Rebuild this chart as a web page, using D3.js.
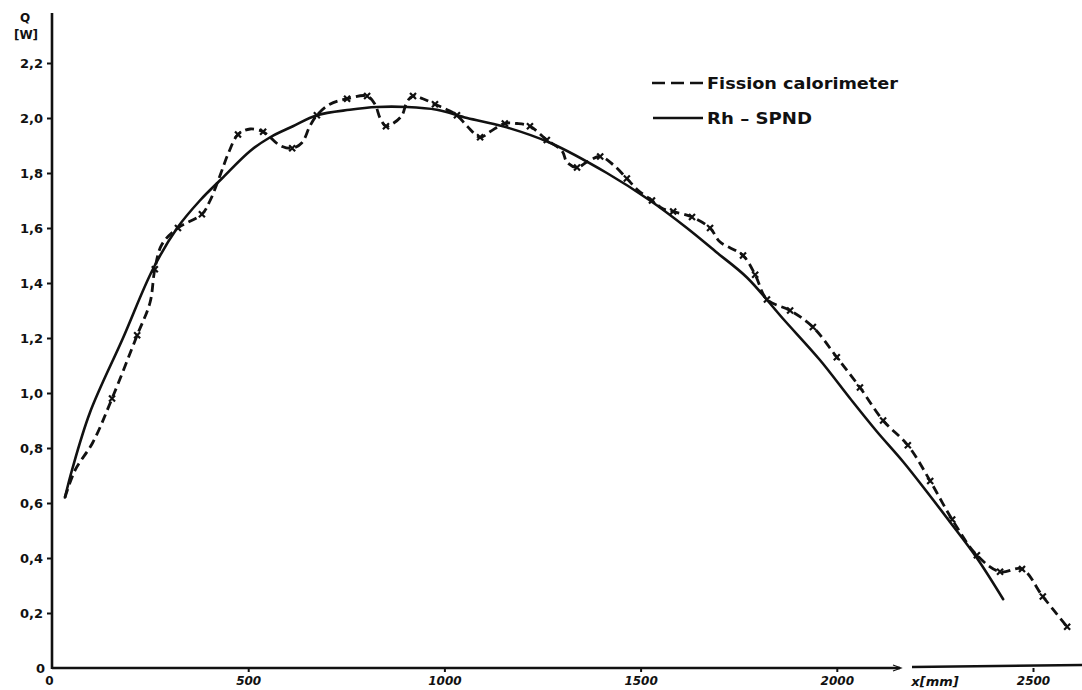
<!DOCTYPE html>
<html>
<head>
<meta charset="utf-8">
<script src="https://cdn.jsdelivr.net/npm/d3@7"></script>
<style>
  html, body { margin: 0; background: #fff; }
  svg { display: block; }
  text { font-family: "DejaVu Sans", sans-serif; fill: #111; }
</style>
</head>
<body>
<svg id="chart" width="1082" height="690"></svg>
<script>
// Axial position along the channel, mm, and power Q, W
const fissionMm = [33, 59, 104, 153, 217, 250, 262, 280, 321, 382, 403, 428, 449, 474, 505, 538, 556, 581, 612, 637,
  657, 675, 708, 752, 803, 823, 836, 851, 869, 892, 905, 920, 945, 976, 1007, 1032, 1058, 1091, 1116, 1154,
  1185, 1218, 1261, 1300, 1312, 1338, 1363, 1397, 1430, 1465, 1491, 1529, 1557, 1583, 1631, 1677, 1702, 1761, 1792, 1822,
  1881, 1939, 2000, 2059, 2118, 2181, 2238, 2294, 2357, 2416, 2472, 2525, 2587];
const fissionQ = [0.62, 0.72, 0.82, 0.98, 1.21, 1.33, 1.45, 1.54, 1.60, 1.65, 1.70, 1.79, 1.87, 1.94, 1.96, 1.95, 1.93, 1.90, 1.89, 1.91,
  1.97, 2.01, 2.05, 2.07, 2.08, 2.05, 2.00, 1.97, 1.98, 2.01, 2.06, 2.08, 2.07, 2.05, 2.03, 2.01, 1.97, 1.93, 1.95, 1.98,
  1.98, 1.97, 1.92, 1.88, 1.84, 1.82, 1.84, 1.86, 1.83, 1.78, 1.74, 1.70, 1.67, 1.66, 1.64, 1.60, 1.55, 1.50, 1.43, 1.34,
  1.30, 1.24, 1.13, 1.02, 0.90, 0.81, 0.68, 0.54, 0.41, 0.35, 0.36, 0.26, 0.15];
// 1-based indices of the fission points carrying a measurement mark
const fissionMarked = [4, 5, 7, 9, 10, 14, 16, 19, 22, 24, 25, 28, 32, 34, 36, 38, 40, 42, 43, 46, 48, 50, 52, 54, 55, 56,
  58, 59, 60, 61, 62, 63, 64, 65, 66, 67, 68, 69, 70, 71, 72, 73];

const spndMm = [33, 51, 97, 181, 257, 319, 377, 433, 505, 556, 614, 675, 759, 828, 905, 981, 1058, 1149, 1269, 1414,
  1524, 1618, 1695, 1771, 1863, 1957, 2034, 2102, 2169, 2230, 2289, 2357, 2424];
const spndQ = [0.62, 0.72, 0.93, 1.20, 1.45, 1.60, 1.70, 1.78, 1.88, 1.93, 1.97, 2.01, 2.03, 2.04, 2.04, 2.03, 2.00, 1.97, 1.91, 1.80,
  1.70, 1.60, 1.51, 1.42, 1.27, 1.12, 0.98, 0.86, 0.75, 0.64, 0.53, 0.40, 0.25];

const qTicks = [0, 0.2, 0.4, 0.6, 0.8, 1.0, 1.2, 1.4, 1.6, 1.8, 2.0, 2.2];
const qTickLabels = ["0", "0,2", "0,4", "0,6", "0,8", "1,0", "1,2", "1,4", "1,6", "1,8", "2,0", "2,2"];
const xTicks = [0, 500, 1000, 1500, 2000, 2500];
const xTickLabels = ["0", "500", "1000", "1500", "2000", "2500"];
const seriesNames = ["Fission calorimeter", "Rh \u2013 SPND"];

const svg = d3.select("#chart");
const ink = "#111";

const x = d3.scaleLinear().domain([0, 2500]).range([52, 1033]);
const y = d3.scaleLinear().domain([0, 2.2]).range([668, 63]);

// Y axis
const yAxis = d3.axisLeft(y)
  .tickValues(qTicks)
  .tickSize(5)
  .tickSizeOuter(0)
  .tickPadding(4)
  .tickFormat((d, i) => qTickLabels[i]);
const gy = svg.append("g").attr("transform", `translate(${x(0)},0)`).call(yAxis);
gy.select(".domain").remove();
gy.selectAll(".tick line").attr("stroke", ink).attr("stroke-width", 2);
gy.selectAll(".tick text")
  .style("font-size", "13px").style("font-weight", "bold").attr("fill", ink);
gy.selectAll(".tick").filter(d => d === 0).select("line").remove();
gy.selectAll(".tick").filter(d => d === 0).select("text").attr("x", -7);

svg.append("line")
  .attr("x1", x(0)).attr("x2", x(0))
  .attr("y1", 13).attr("y2", y(0) + 1)
  .attr("stroke", ink).attr("stroke-width", 2.6);

// Y axis title
svg.append("text").attr("x", 25).attr("y", 22).attr("text-anchor", "middle")
  .style("font-size", "12px").style("font-weight", "bold").text("Q");
svg.append("text").attr("x", 26).attr("y", 39).attr("text-anchor", "middle")
  .style("font-size", "12px").style("font-weight", "bold").text("[W]");

// X axis
const xAxis = d3.axisBottom(x)
  .tickValues(xTicks)
  .tickSize(4)
  .tickSizeOuter(0)
  .tickPadding(4)
  .tickFormat((d, i) => xTickLabels[i]);
const gx = svg.append("g").attr("transform", `translate(0,${y(0)})`).call(xAxis);
gx.select(".domain").remove();
gx.selectAll(".tick line").attr("stroke", ink).attr("stroke-width", 2);
gx.selectAll(".tick text")
  .style("font-size", "12px").style("font-weight", "bold").style("font-style", "italic").attr("fill", ink);
gx.selectAll(".tick").filter(d => d === 0).select("line").remove();
gx.selectAll(".tick").filter(d => d === 0).select("text").attr("dx", -3).style("font-style", "normal");

svg.append("line")
  .attr("x1", x(0)).attr("x2", 900)
  .attr("y1", y(0)).attr("y2", y(0))
  .attr("stroke", ink).attr("stroke-width", 2.4);
svg.append("path")
  .attr("d", `M893,${y(0) - 3}L901,${y(0)}L893,${y(0) + 3}`)
  .attr("fill", "none").attr("stroke", ink).attr("stroke-width", 1.2);
svg.append("line")
  .attr("x1", 912).attr("x2", 1082)
  .attr("y1", y(0) - 1).attr("y2", y(0) - 3)
  .attr("stroke", ink).attr("stroke-width", 2.4);
svg.append("text").attr("x", 935).attr("y", 686).attr("text-anchor", "middle")
  .style("font-size", "13px").style("font-weight", "bold").style("font-style", "italic")
  .text("x[mm]");

// Curves
const line = d3.line().curve(d3.curveCatmullRom.alpha(0.5));

const spndPts = spndMm.map((m, i) => [x(m), y(spndQ[i])]);
svg.append("path")
  .attr("d", line(spndPts))
  .attr("fill", "none").attr("stroke", ink).attr("stroke-width", 2.6)
  .attr("stroke-linecap", "round").attr("stroke-linejoin", "round");

const fissionPts = fissionMm.map((m, i) => [x(m), y(fissionQ[i])]);
svg.append("path")
  .attr("d", line(fissionPts))
  .attr("fill", "none").attr("stroke", ink).attr("stroke-width", 2.8)
  .attr("stroke-dasharray", "9,5");

// Measurement marks on the calorimeter curve
svg.append("g").selectAll("path")
  .data(fissionMarked.map(k => fissionPts[k - 1]))
  .join("path")
  .attr("transform", d => `translate(${d[0]},${d[1]})`)
  .attr("d", "M-3,-3L3,3M-3,3L3,-3")
  .attr("stroke", ink).attr("stroke-width", 2.2).attr("fill", "none");

// Legend
const legend = svg.append("g");
legend.append("line")
  .attr("x1", 652).attr("x2", 704).attr("y1", 83).attr("y2", 83)
  .attr("stroke", ink).attr("stroke-width", 2.6).attr("stroke-dasharray", "13,6");
legend.append("text").attr("x", 707).attr("y", 89)
  .style("font-size", "16px").style("font-weight", "bold")
  .attr("textLength", 191).attr("lengthAdjust", "spacingAndGlyphs")
  .text(seriesNames[0]);
legend.append("line")
  .attr("x1", 653).attr("x2", 703).attr("y1", 118).attr("y2", 118)
  .attr("stroke", ink).attr("stroke-width", 2.6);
legend.append("text").attr("x", 707).attr("y", 124)
  .style("font-size", "16px").style("font-weight", "bold")
  .attr("textLength", 105).attr("lengthAdjust", "spacingAndGlyphs")
  .text(seriesNames[1]);
</script>
</body>
</html>
